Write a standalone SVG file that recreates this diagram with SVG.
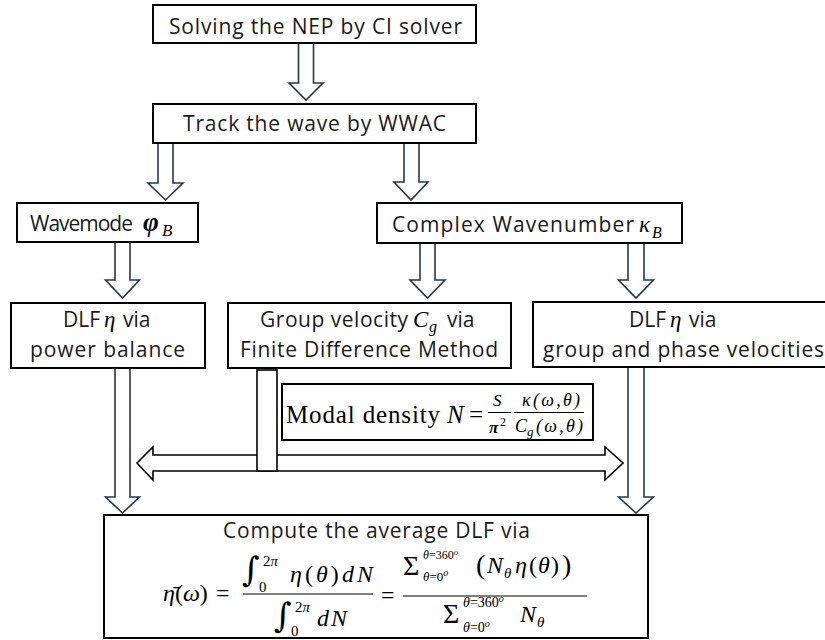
<svg xmlns="http://www.w3.org/2000/svg" width="825" height="640" viewBox="0 0 825 640">
<style>
.box{fill:#fff;stroke:#000;stroke-width:2}
.arr{fill:#fff;stroke:#1f3a4c;stroke-width:1.6;stroke-linejoin:miter}
.barr{fill:#fff;stroke:#000;stroke-width:1.6}
.t{font-family:"Open Sans","Liberation Sans",sans-serif;font-size:21px;fill:#1a1a1a}
.m{font-family:"Liberation Serif","DejaVu Serif",serif;font-style:italic;fill:#000}
.r{font-family:"Liberation Serif","DejaVu Serif",serif;font-style:normal;fill:#000}
.int{font-family:"DejaVu Serif","Liberation Serif",serif;fill:#000}
.bar{stroke:#000;stroke-width:1}
</style>
<rect width="825" height="640" fill="#fff"/>

<g id="connectors">
  <path class="arr" d="M298.5,43 H313.5 V83 H323 L306,100 L289,83 H298.5 Z"/>
  <path class="arr" d="M158,143 H173 V183 H183 L165.5,200 L148,183 H158 Z"/>
  <path class="arr" d="M404,143 H419 V182 H428 L411,200 L394,182 H404 Z"/>
  <path class="arr" d="M115,242 H130 V280 H139.5 L122.5,298 L105.5,280 H115 Z"/>
  <path class="arr" d="M420,243 H435 V280 H445 L427.5,298 L410,280 H420 Z"/>
  <path class="arr" d="M628,243 H644 V280 H653.5 L636,298 L618.5,280 H628 Z"/>
  <path class="arr" d="M115,368 H130 V497 H139.5 L122.5,513 L105.5,497 H115 Z"/>
  <path class="arr" d="M628,367 H644 V497 H653.5 L636,513 L618.5,497 H628 Z"/>
  <path class="barr" d="M137,463 L153,447 V455 H605 V447 L623,463 L605,480 V471 H153 V480 Z"/>
  <rect class="barr" x="257" y="370" width="20" height="101"/>
</g>

<g id="n1">
  <rect class="box" x="153" y="5" width="323" height="38"/>
  <text class="t" x="169" y="34" textLength="293" lengthAdjust="spacing">Solving the NEP by CI solver</text>
</g>
<g id="n2">
  <rect class="box" x="153" y="104" width="323" height="39"/>
  <text class="t" x="183" y="131" textLength="263" lengthAdjust="spacing">Track the wave by WWAC</text>
</g>
<g id="n3">
  <rect class="box" x="17" y="203" width="181" height="39"/>
  <text class="t" x="30" y="231" textLength="103" lengthAdjust="spacing">Wavemode</text>
  <text class="m" x="143" y="231" font-size="27" font-weight="bold">φ</text>
  <text class="m" x="162" y="236" font-size="17">B</text>
</g>
<g id="n4">
  <rect class="box" x="377" y="203" width="305" height="40"/>
  <text class="t" x="392" y="232" textLength="242" lengthAdjust="spacing">Complex Wavenumber</text>
  <text class="m" x="639" y="232" font-size="23">κ</text>
  <text class="m" x="652" y="238" font-size="16">B</text>
</g>
<g id="n5">
  <rect class="box" x="11" y="303" width="194" height="65"/>
  <text class="t" x="63" y="327">DLF</text>
  <text class="m" x="104" y="327" font-size="23">η</text>
  <text class="t" x="123" y="327">via</text>
  <text class="t" x="30" y="357" textLength="155" lengthAdjust="spacing">power balance</text>
</g>
<g id="n6">
  <rect class="box" x="228" y="303" width="283" height="65"/>
  <text class="t" x="260" y="327" textLength="148" lengthAdjust="spacing">Group velocity</text>
  <text class="m" x="413" y="327" font-size="23">C</text>
  <text class="m" x="429" y="332" font-size="16">g</text>
  <text class="t" x="447" y="327">via</text>
  <text class="t" x="240" y="357" textLength="258" lengthAdjust="spacing">Finite Difference Method</text>
</g>
<g id="n7">
  <rect class="box" x="533" y="302" width="300" height="65"/>
  <text class="t" x="629" y="327">DLF</text>
  <text class="m" x="670" y="327" font-size="23">η</text>
  <text class="t" x="689" y="327">via</text>
  <text class="t" x="543" y="357" textLength="281" lengthAdjust="spacing">group and phase velocities</text>
</g>
<g id="n8">
  <rect class="box" x="282" y="384" width="311" height="56"/>
  <text class="r" x="286" y="423" font-size="25" textLength="154" lengthAdjust="spacing">Modal density</text>
  <text class="m" x="447" y="423" font-size="25">N</text>
  <text class="r" x="469" y="423" font-size="25">=</text>
  <text class="m" x="493" y="406" font-size="17">S</text>
  <line class="bar" x1="488" y1="412.5" x2="511" y2="412.5"/>
  <text class="m" x="489" y="433" font-size="17" font-weight="bold">π</text>
  <text class="r" x="500" y="426" font-size="12">2</text>
  <text class="m" x="522" y="406" font-size="18" textLength="58" lengthAdjust="spacing">κ(ω,θ)</text>
  <line class="bar" x1="514" y1="412.5" x2="584" y2="412.5"/>
  <text class="m" x="515" y="432" font-size="18">C</text>
  <text class="m" x="527" y="436" font-size="13">g</text>
  <text class="m" x="536" y="432" font-size="18" textLength="47" lengthAdjust="spacing">(ω,θ)</text>
</g>
<g id="n9">
  <rect class="box" x="104" y="515" width="544" height="123"/>
  <text class="t" x="223" y="538" textLength="307" lengthAdjust="spacing">Compute the average DLF via</text>
  <text class="m" x="163" y="601" font-size="24">η̄<tspan class="r">(</tspan>ω<tspan class="r">)</tspan></text>
  <text class="r" x="216" y="601" font-size="24">=</text>
  <text class="int" x="242" y="581" font-size="34">∫</text>
  <text class="r" x="263" y="566" font-size="15">2<tspan class="m">π</tspan></text>
  <text class="r" x="259" y="592" font-size="15">0</text>
  <text class="m" x="290" y="582" font-size="24" textLength="83" lengthAdjust="spacing">η<tspan class="r">(</tspan>θ<tspan class="r">)</tspan>dN</text>
  <line class="bar" x1="243" y1="594" x2="373" y2="594"/>
  <text class="int" x="274" y="627" font-size="34">∫</text>
  <text class="r" x="295" y="612" font-size="15">2<tspan class="m">π</tspan></text>
  <text class="r" x="291" y="636" font-size="15">0</text>
  <text class="m" x="317" y="626" font-size="24" textLength="30" lengthAdjust="spacing">dN</text>
  <text class="r" x="381" y="603" font-size="24">=</text>
  <line class="bar" x1="403" y1="596" x2="587" y2="596"/>
  <text class="r" x="403" y="575" font-size="28">Σ</text>
  <text class="m" x="423" y="559" font-size="12">θ<tspan class="r">=360</tspan><tspan font-size="9" dy="-4">o</tspan></text>
  <text class="m" x="423" y="581" font-size="13">θ<tspan class="r">=0</tspan><tspan font-size="10" dy="-5">o</tspan></text>
  <text class="r" x="476" y="574" font-size="28">(</text>
  <text class="m" x="487" y="573" font-size="24">N</text>
  <text class="m" x="504" y="578" font-size="15">θ</text>
  <text class="m" x="515" y="573" font-size="24">η</text>
  <text class="r" x="529" y="573" font-size="24">(</text>
  <text class="m" x="538" y="573" font-size="24">θ</text>
  <text class="r" x="551" y="573" font-size="24">)</text>
  <text class="r" x="562" y="574" font-size="28">)</text>
  <text class="r" x="443" y="623" font-size="28">Σ</text>
  <text class="m" x="463" y="607" font-size="14">θ<tspan class="r">=360</tspan><tspan font-size="10" dy="-5">o</tspan></text>
  <text class="m" x="463" y="632" font-size="14">θ<tspan class="r">=0</tspan><tspan font-size="10" dy="-5">o</tspan></text>
  <text class="m" x="520" y="622" font-size="24">N</text>
  <text class="m" x="537" y="627" font-size="15">θ</text>
</g>
</svg>
